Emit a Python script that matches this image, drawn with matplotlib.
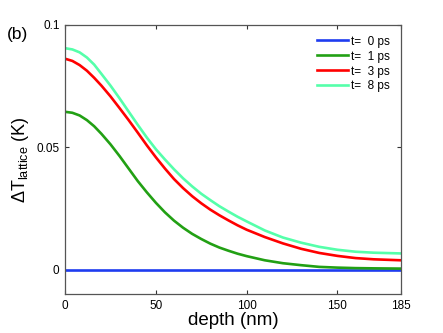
import numpy as np
import matplotlib
matplotlib.use('Agg')
import matplotlib.pyplot as plt

plt.rcParams['font.family'] = ['Liberation Sans', 'DejaVu Sans']
plt.rcParams['mathtext.fontset'] = 'custom'
plt.rcParams['mathtext.rm'] = 'Liberation Sans'
plt.rcParams['mathtext.it'] = 'Liberation Sans'

# 深度 (nm)
depth = [0, 4, 8, 12, 16, 20, 25, 30, 35, 40, 45, 50, 55, 60, 65, 70, 75, 80, 85, 90, 95,
         100, 110, 120, 130, 140, 150, 160, 170, 185]

# 各时刻的晶格温升 (K)
dT_0ps = [0.0] * len(depth)
dT_1ps = [0.0645, 0.0641, 0.0630, 0.0611, 0.0586, 0.0555, 0.0512, 0.0464, 0.0413, 0.0362,
          0.0316, 0.0273, 0.0234, 0.0200, 0.0171, 0.0146, 0.0125, 0.0106, 0.0090, 0.0077,
          0.0065, 0.0055, 0.0038, 0.0026, 0.0018, 0.0011, 0.0008, 0.0006, 0.0005, 0.0004]
dT_3ps = [0.0862, 0.0853, 0.0836, 0.0813, 0.0784, 0.0752, 0.0708, 0.0660, 0.0611, 0.0560,
          0.0508, 0.0459, 0.0413, 0.0370, 0.0333, 0.0300, 0.0271, 0.0245, 0.0222, 0.0201,
          0.0181, 0.0163, 0.0133, 0.0107, 0.0085, 0.0068, 0.0056, 0.0047, 0.0042, 0.0038]
dT_8ps = [0.0905, 0.0900, 0.0888, 0.0867, 0.0838, 0.0800, 0.0752, 0.0700, 0.0646, 0.0592,
          0.0540, 0.0492, 0.0450, 0.0410, 0.0373, 0.0340, 0.0310, 0.0284, 0.0259, 0.0237,
          0.0216, 0.0197, 0.0160, 0.0131, 0.0110, 0.0093, 0.0081, 0.0073, 0.0069, 0.0066]

labels = ['t=  0 ps', 't=  1 ps', 't=  3 ps', 't=  8 ps']
colors = ['#1e3cf0', '#22a014', '#ff0000', '#55ffaa']

fig = plt.figure(figsize=(4.43, 3.33), dpi=100)
ax = fig.add_axes([0.147, 0.117, 0.758, 0.808])

for y, lab, c in zip([dT_0ps, dT_1ps, dT_3ps, dT_8ps], labels, colors):
    ax.plot(depth, y, color=c, lw=1.9, label=lab, solid_joinstyle='round')

ax.set_xlim(0, 185)
ax.set_ylim(-0.01, 0.1)
ax.set_xticks([0, 50, 100, 150, 185])
ax.set_yticks([0, 0.05, 0.1])
ax.set_yticklabels(['0', '0.05', '0.1'])
ax.tick_params(direction='in', top=True, right=True, labelsize=8.5, length=3,
               color='#333333', pad=4)
for s in ax.spines.values():
    s.set_color('#555555')
    s.set_linewidth(0.9)

ax.set_xlabel('depth (nm)', fontsize=13.5, labelpad=0)
ax.set_ylabel(r'$\Delta$T$_{\rm lattice}$ (K)', fontsize=13, labelpad=4)

ax.legend(loc='upper right', frameon=False, fontsize=8.5, handlelength=2.6,
          handletextpad=0.3, labelspacing=0.25, borderaxespad=0.5)

fig.text(0.015, 0.895, '(b)', fontsize=12.5, va='center')

fig.savefig('out.png', dpi=100)
